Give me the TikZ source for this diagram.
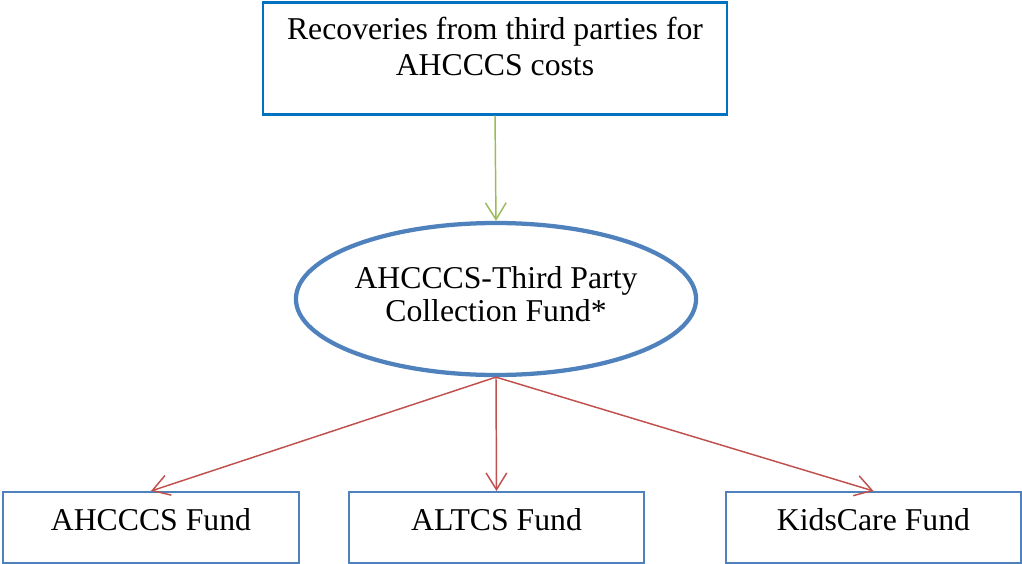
\documentclass[tikz,border=0pt]{standalone}
\usepackage{fontspec}
\setmainfont{Liberation Serif}
\usetikzlibrary{arrows.meta,shapes.geometric}
\definecolor{topblue}{HTML}{0070C0}
\definecolor{boxblue}{HTML}{4F81BD}
\definecolor{arrred}{HTML}{C0504D}
\definecolor{arrgreen}{HTML}{9BBB59}
\tikzset{
  x=0.75pt, y=-0.75pt,
  lbl/.style={font=\fontsize{23.8pt}{27.5pt}\selectfont, align=center, inner xsep=0pt, inner ysep=0pt},
  topbox/.style={lbl, draw=topblue, line width=1.9pt, minimum width=348pt, text height=55.25pt, text depth=28.75pt},
  fundbox/.style={lbl, draw=boxblue, line width=1.6pt, minimum width=221pt, text height=28.5pt, text depth=24.75pt},
  fundell/.style={lbl, font=\fontsize{23.8pt}{25pt}\selectfont, ellipse, draw=boxblue, line width=3.2pt, minimum width=280.5pt, minimum height=114pt, text depth=8pt},
  flow/.style={line width=1.1pt, -{Straight Barb[length=12.5pt, width=15.5pt, line width=1.1pt]}},
}
\begin{document}
\begin{tikzpicture}
\useasboundingbox (0,0) rectangle (1022,564);
\node[topbox, anchor=north] (src) at (495,1) {Recoveries from third parties for\\AHCCCS costs};
\node[fundell] (coll) at (496,299) {AHCCCS-Third Party\\Collection Fund*};
\node[fundbox, minimum width=222pt, anchor=north] (f1) at (151,491) {AHCCCS Fund};
\node[fundbox, anchor=north] (f2) at (496.5,491) {ALTCS Fund};
\node[fundbox, anchor=north] (f3) at (873.5,491) {KidsCare Fund};
\draw[flow, draw=arrgreen] (src.south) -- (coll.north);
\draw[flow, draw=arrred] (coll.south) -- (f1.north);
\draw[flow, draw=arrred] (coll.south) -- (f2.north);
\draw[flow, draw=arrred] (coll.south) -- (f3.north);
\end{tikzpicture}
\end{document}
